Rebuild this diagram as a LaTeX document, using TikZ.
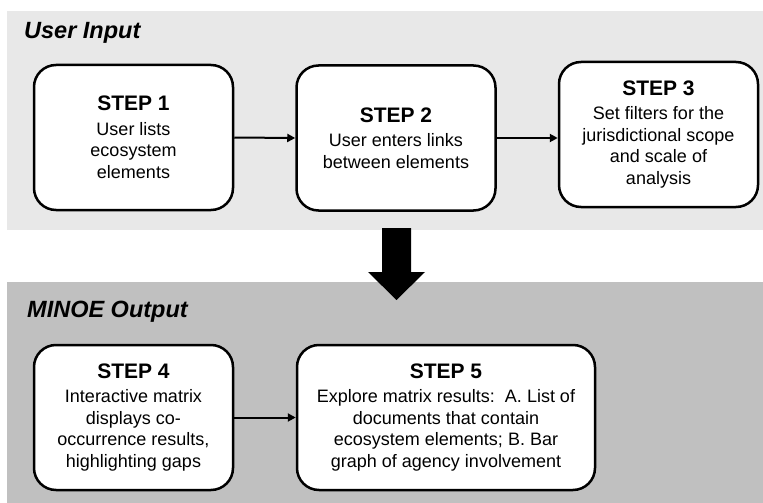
\documentclass[tikz,border=0pt]{standalone}
\usepackage{fontspec}
\setmainfont{Liberation Sans}
\usetikzlibrary{arrows.meta}
\definecolor{panelA}{RGB}{232,232,232}
\definecolor{panelB}{RGB}{192,192,192}
\newcommand{\stepfont}{\fontsize{21}{24}\selectfont\bfseries}
\newcommand{\bodyfont}{\fontsize{18}{21.5}\selectfont}
\begin{document}
\begin{tikzpicture}[x=1pt,y=-1pt,
  stepbox/.style={draw=black, line width=2.5pt, fill=white, rounded corners=22pt,
    minimum width=199pt, minimum height=145pt, align=center, font=\bodyfont, inner sep=2pt},
  link/.style={line width=2pt, -{Triangle[length=8pt,width=8pt]}},
  paneltitle/.style={font=\fontsize{23.5}{26}\selectfont\bfseries\itshape, anchor=west, inner sep=0pt}]
\useasboundingbox (0,0) rectangle (763,503);
\fill[white] (0,0) rectangle (763,503);
\fill[panelA] (7,11) rectangle (763,230);
\fill[panelB] (7,282) rectangle (763,503);
\node[paneltitle] (t1) at (24,33) {User Input};
\node[paneltitle] (t2) at (27,312) {MINOE Output};
\node[stepbox] (s1) at (133.5,137.5) {{\stepfont STEP 1}\\[3pt]User lists\\ecosystem\\elements};
\node[stepbox] (s2) at (396,138) {{\stepfont STEP 2}\\[3pt]User enters links\\between elements};
\node[stepbox] (s3) at (658.5,134.5) {{\stepfont STEP 3}\\[3pt]Set filters for the\\jurisdictional scope\\and scale of\\analysis};
\node[stepbox] (s4) at (133.5,417.5) {{\stepfont STEP 4}\\[3pt]Interactive matrix\\displays co-\\occurrence results,\\highlighting gaps};
\node[stepbox, minimum width=298pt] (s5) at (446,417.5) {{\stepfont STEP 5}\\[3pt]Explore matrix results:\ \ A. List of\\documents that contain\\ecosystem elements; B. Bar\\graph of agency involvement};
\draw[link] (s1.east) -- (s2.west);
\draw[link] (s2.east) -- (s2.east -| s3.west);
\draw[link] (s4.east) -- (s5.west);
\fill[black] (382,228) -- (411,228) -- (411,272) -- (425,272) -- (396.5,300) -- (368,272) -- (382,272) -- cycle;
\end{tikzpicture}
\end{document}
